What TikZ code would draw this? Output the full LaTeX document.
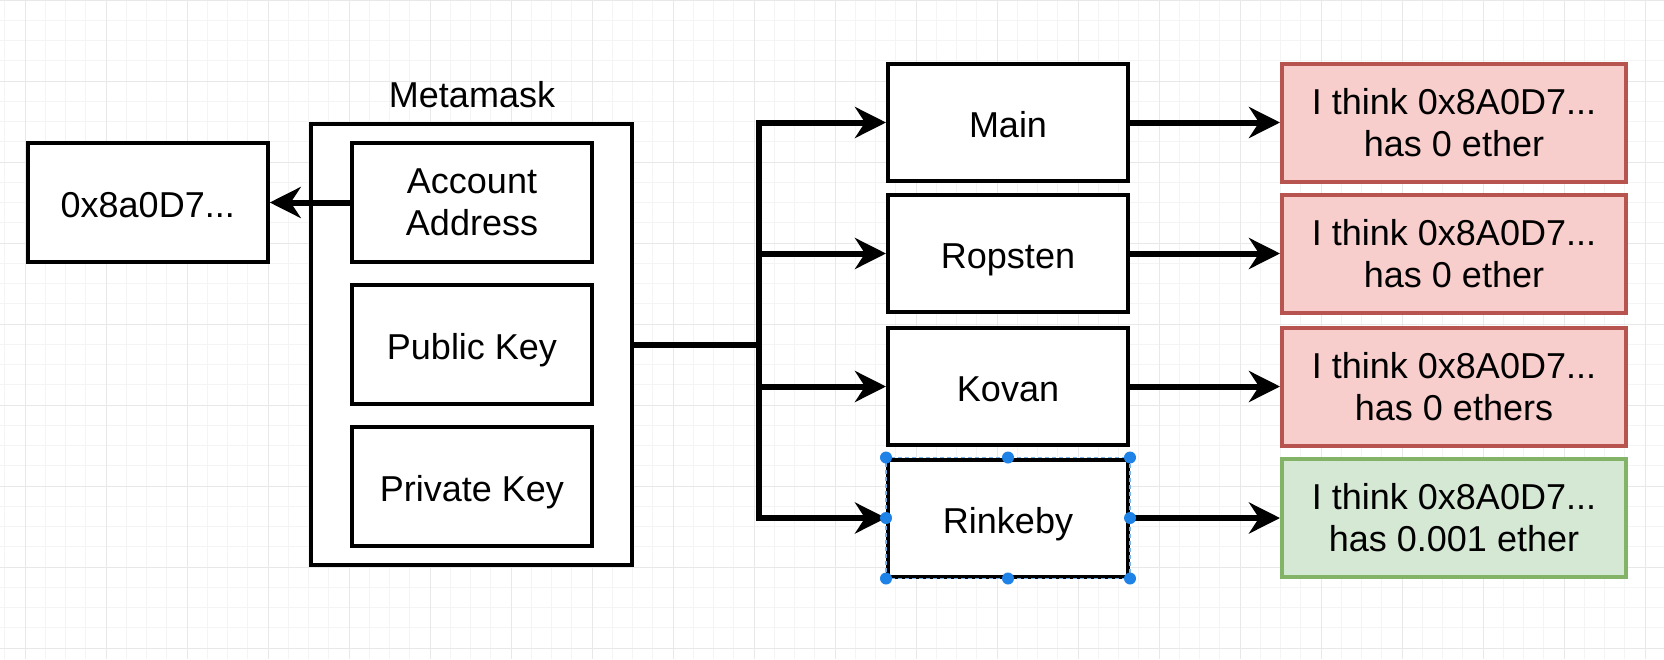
\documentclass[tikz,border=0pt]{standalone}
\usepackage{fontspec}
\setmainfont{Liberation Sans}
\usetikzlibrary{arrows.meta}
\definecolor{redfill}{HTML}{F8CECC}
\definecolor{redline}{HTML}{B85450}
\definecolor{greenfill}{HTML}{D5E8D4}
\definecolor{greenline}{HTML}{82B366}
\definecolor{handleblue}{RGB}{30,130,230}
\definecolor{selblue}{RGB}{120,180,235}
\definecolor{gridminor}{HTML}{F4F4F4}
\definecolor{gridmajor}{HTML}{E8E8E8}
\tikzset{
  box/.style={draw=black, fill=white, line width=4pt, minimum width=240pt, minimum height=119pt, inner sep=0pt, align=center, font=\fontsize{36}{42}\selectfont},
  oneline/.style={text height=30pt, text depth=0pt},
  netbox/.style={box, oneline, minimum height=117pt},
  resbox/.style={box, minimum width=344pt, minimum height=118pt},
  redbox/.style={resbox, draw=redline, fill=redfill},
  greenbox/.style={resbox, draw=greenline, fill=greenfill},
  conn/.style={line width=6pt, line join=miter},
  tipconn/.style={conn, -{Stealth[length=31pt,width=31pt,inset=10pt]}},
  handle/.style={circle, fill=handleblue, draw=none, inner sep=0pt, minimum size=12pt},
  minorgrid/.style={draw=gridminor, line width=1pt},
  majorgrid/.style={draw=gridmajor, line width=1pt},
  plainlabel/.style={inner sep=0pt, font=\fontsize{36}{42}\selectfont}
}
\begin{document}
\begin{tikzpicture}[x=1pt,y=-1pt]
\useasboundingbox (0,0) rectangle (1664,659);
\fill[white] (0,0) rectangle (1664,659);
% grid
\foreach \i in {0,...,82} \draw[minorgrid] ({4.75+20.25*\i},0) -- ({4.75+20.25*\i},659);
\foreach \j in {0,...,32} \draw[minorgrid] (0,{20.25*\j}) -- (1664,{20.25*\j});
\foreach \i in {0,...,20} \draw[majorgrid] ({25+81*\i},0) -- ({25+81*\i},659);
\foreach \j in {0,...,8} \draw[majorgrid] (0,{81*\j}) -- (1664,{81*\j});

% left part
\node[box, oneline] (addr) at (147.75,202.5) {0x8a0D7...};
\node[box, minimum width=320.5pt, minimum height=441pt] (mm) at (471.25,344.5) {};
\node[plainlabel] (mmlabel) at (472,94.5) {Metamask};
\node[box] (acct) at (472,202.5) {Account\\Address};
\node[box, oneline] (pub) at (472,344.5) {Public Key};
\node[box, oneline] (priv) at (472,486) {Private Key};

% networks
\node[netbox] (main) at (1008,122.5) {Main};
\node[netbox] (rop) at (1008,253.5) {Ropsten};
\node[netbox] (kov) at (1008,386.5) {Kovan};
\node[netbox] (rink) at (1008,518) {Rinkeby};

% results
\node[redbox] (r1) at (1454,122.5) {I think 0x8A0D7...\\has 0 ether};
\node[redbox] (r2) at (1454,253.5) {I think 0x8A0D7...\\has 0 ether};
\node[redbox] (r3) at (1454,386.5) {I think 0x8A0D7...\\has 0 ethers};
\node[greenbox] (r4) at (1454,518) {I think 0x8A0D7...\\has 0.001 ether};

% connectors
\coordinate (bus) at (759,344.5);
\draw[tipconn] (acct.west) -- (addr.east);
\draw[conn] (mm.east) -- (bus);
\draw[tipconn] (bus) |- (main.west);
\draw[tipconn] (bus) |- (rop.west);
\draw[tipconn] (bus) |- (kov.west);
\draw[tipconn] (bus) |- (rink.west);
\draw[tipconn] (main.east) -- (r1.west);
\draw[tipconn] (rop.east) -- (r2.west);
\draw[tipconn] (kov.east) -- (r3.west);
\draw[tipconn] (rink.east) -- (r4.west);

% selection of Rinkeby
\draw[selblue, line width=1.2pt, dash pattern=on 4pt off 3pt] (rink.south west) rectangle (rink.north east);
\node[handle] (h1) at (rink.north west) {};
\node[handle] (h2) at (rink.north) {};
\node[handle] (h3) at (rink.north east) {};
\node[handle] (h4) at (rink.west) {};
\node[handle] (h5) at (rink.east) {};
\node[handle] (h6) at (rink.south west) {};
\node[handle] (h7) at (rink.south) {};
\node[handle] (h8) at (rink.south east) {};
\end{tikzpicture}
\end{document}
